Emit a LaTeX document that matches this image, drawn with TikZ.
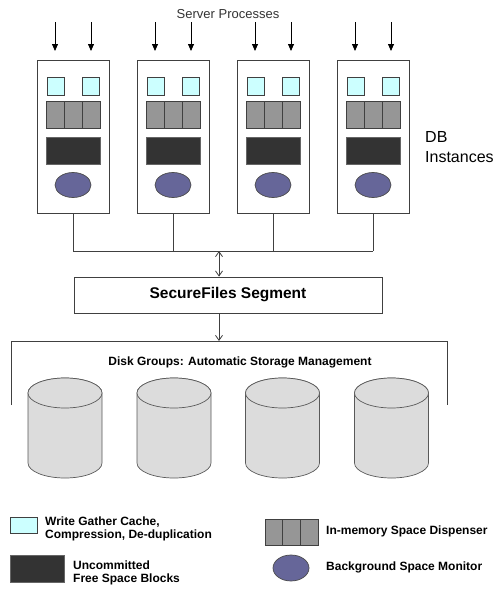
\documentclass[tikz,border=0pt]{standalone}
\usepackage{fontspec}
\setmainfont{Liberation Sans}
\usetikzlibrary{arrows.meta,shapes.geometric}
\definecolor{wgc}{HTML}{CCFFFF}
\definecolor{disp}{HTML}{969696}
\definecolor{ufs}{HTML}{333333}
\definecolor{bsm}{HTML}{666699}
\definecolor{disk}{HTML}{DCDCDC}
\definecolor{edge}{HTML}{404040}
\tikzset{
  inst/.style={draw=edge, line width=0.8pt, fill=white, minimum width=72pt, minimum height=153pt, inner sep=0pt},
  cache/.style={draw=edge, line width=0.7pt, fill=wgc, minimum width=17pt, minimum height=18pt, inner sep=0pt},
  dispcell/.style={draw=black!75, line width=0.7pt, fill=disp, minimum width=18pt, minimum height=27pt, inner sep=0pt},
  freeblk/.style={draw=black!60, line width=0.7pt, fill=ufs, minimum width=54pt, minimum height=27pt, inner sep=0pt},
  monitor/.style={draw=black!70, line width=0.7pt, fill=bsm, ellipse, minimum width=36pt, minimum height=25pt, inner sep=0pt},
  wire/.style={draw=edge, line width=0.8pt},
  inarrow/.style={draw=black, line width=0.8pt, -{Triangle[length=7pt,width=6pt]}},
  openarrow/.style={draw=edge, line width=0.8pt},
  diskcyl/.style={draw=black!65, line width=0.7pt, fill=disk},
  lbl/.style={font=\bfseries\fontsize{12}{13}\selectfont, align=left, inner sep=0pt, anchor=west},
}
\begin{document}
\begin{tikzpicture}[x=1pt, y=-1pt]
\useasboundingbox (0,0) rectangle (500,597);
\node[font=\fontsize{13}{15}\selectfont, text=black!80, inner sep=0pt] (sp) at (228,14) {Server Processes};
\node[font=\fontsize{16}{20}\selectfont, align=left, anchor=west, inner sep=0pt] (dbi) at (425,147) {DB\\Instances};
\foreach \i/\cx in {1/73,2/173,3/273,4/373}{
  \node[inst] (inst\i) at (\cx,136.5) {};
  \node[cache] (ca\i) at (\cx-17.5,86) {};
  \node[cache] (cb\i) at (\cx+18,86) {};
  \node[dispcell] (da\i) at (\cx-18,114.5) {};
  \node[dispcell] (db\i) at (\cx,114.5) {};
  \node[dispcell] (dc\i) at (\cx+18,114.5) {};
  \node[freeblk] (fb\i) at (\cx,150.5) {};
  \node[monitor] (bm\i) at (\cx,185) {};
  \coordinate (as\i) at (\cx-18,22);
  \coordinate (bs\i) at (\cx+18,22);
  \coordinate (ae\i) at (\cx-18,51);
  \coordinate (be\i) at (\cx+18,51);
  \draw[inarrow] (as\i) -- (ae\i);
  \draw[inarrow] (bs\i) -- (be\i);
  \coordinate (bus\i) at (\cx,251);
  \draw[wire] (inst\i.south) -- (bus\i);
}
\draw[wire] (bus1) -- (bus4);
\coordinate (busmid) at (219,251);
\node[draw=edge, line width=0.8pt, minimum width=308pt, minimum height=36pt, inner sep=0pt, font=\bfseries\fontsize{15.5}{17}\selectfont] (seg) at (228,295) {SecureFiles Segment};
\draw[openarrow, {Straight Barb[length=5pt,width=7pt]}-{Straight Barb[length=5pt,width=7pt]}] (busmid) -- (busmid |- seg.north);
\coordinate (dgtop) at (219,341);
\draw[openarrow, -{Straight Barb[length=5pt,width=7pt]}] (seg.south -| busmid) -- (dgtop);
\coordinate (dgl) at (11,341);
\coordinate (dgr) at (447,341);
\draw[wire] (11,405) -- (dgl) -- (dgr) -- (447,405);
\node[font=\bfseries\fontsize{12}{14}\selectfont, inner sep=0pt] (dgt) at (240,362) {Disk Groups: Automatic Storage Management};
\foreach \i/\cx in {1/65,2/174,3/282.5,4/391.5}{
  \draw[diskcyl] (\cx-37,393) -- (\cx-37,463) arc[start angle=180, end angle=360, x radius=37pt, y radius=15pt] -- (\cx+37,393) arc[start angle=0, end angle=180, x radius=37pt, y radius=15pt] -- cycle;
  \draw[diskcyl] (\cx,393) ellipse[x radius=37pt, y radius=15pt];
  \coordinate (disk\i) at (\cx,428);
}
% legend
\node[cache, minimum width=27pt, minimum height=16pt] (lg1) at (23.5,525) {};
\node[lbl] (lt1) at (45,529) {Write Gather Cache,\\Compression, De-duplication};
\node[freeblk] (lg2) at (37,568.5) {};
\node[lbl] (lt2) at (73,573) {Uncommitted\\Free Space Blocks};
\node[dispcell, minimum width=17.7pt, minimum height=26pt] (lg3a) at (273.85,532) {};
\node[dispcell, minimum width=17.7pt, minimum height=26pt] (lg3b) at (291.5,532) {};
\node[dispcell, minimum width=17.7pt, minimum height=26pt] (lg3c) at (309.15,532) {};
\node[lbl] (lt3) at (326,531) {In-memory Space Dispenser};
\node[monitor, minimum height=26pt] (lg4) at (291,568) {};
\node[lbl] (lt4) at (326,567) {Background Space Monitor};
\end{tikzpicture}
\end{document}
